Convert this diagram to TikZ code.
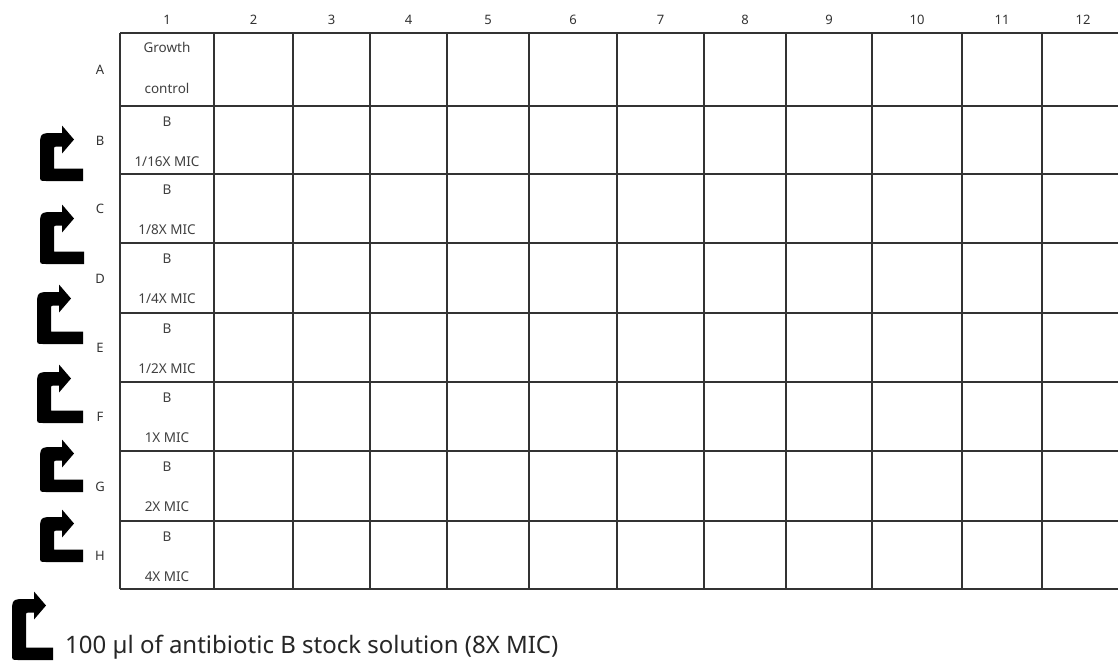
\documentclass[tikz,border=0pt]{standalone}
\usepackage{fontspec}
\setmainfont{Noto Sans}
\tikzset{
  gridline/.style={draw=black!80, line width=1.1pt},
  lbl/.style={font=\fontsize{13}{15}\selectfont, text=black!80, inner sep=0pt},
  celltxt/.style={font=\fontsize{13.5}{15}\selectfont, text=black!75, inner sep=0pt},
  legendtxt/.style={font=\fontsize{24}{28}\selectfont, text=black!85, inner sep=0pt, anchor=base west},
  arrowfill/.style={fill=black}
}
\newcommand\bentarr[4]{%
  \fill[arrowfill] (#4,#3) -- ({#1+6},#3) .. controls (#1,#3) .. (#1,{#3-6})
    -- (#1,{#2+15}) .. controls (#1,#2) .. ({#1+15},#2)
    -- ({#1+22},#2) -- ({#1+22},{#2-7.5}) -- ({#1+34},{#2+6.5}) -- ({#1+22},{#2+20.5})
    -- ({#1+22},{#2+13.5}) -- ({#1+17},{#2+13.5}) .. controls ({#1+14},{#2+13.5}) .. ({#1+14},{#2+16.5})
    -- ({#1+14},{#3-12.5}) -- (#4,{#3-12.5}) -- cycle;}
\begin{document}
\begin{tikzpicture}[x=1pt,y=-1pt]
\useasboundingbox[fill=white] (0,0) rectangle (1118,662);
% grid
\foreach \y in {33,106,174,243,313,382,451,521,589}
  \draw[gridline] (120,\y) -- (1118,\y);
\foreach \x in {120,214,293,370,447,529,617,704,786,872,962,1042}
  \draw[gridline] (\x,33) -- (\x,589);
% column headers
\foreach \n/\x in {1/167,2/253.5,3/331.5,4/408.5,5/488,6/573,7/660.5,8/745,9/829,10/917,11/1002,12/1083}
  \node[lbl] (col\n) at (\x,20) {\n};
% row labels
\foreach \r/\y in {A/70,B/141,C/209,D/279,E/348,F/417,G/487,H/556}
  \node[lbl] (row\r) at (100,\y) {\r};
% column 1 texts
\node[celltxt] (a1t) at (167,47) {Growth};
\node[celltxt] (a1b) at (167,88) {control};
\foreach \r/\t/\txt in {B/106/1\slash 16X MIC,C/174/1\slash 8X MIC,D/243/1\slash 4X MIC,E/313/1\slash 2X MIC,F/382/1X MIC,G/451/2X MIC,H/521/4X MIC}{
  \node[celltxt] (\r1t) at (167,\t+16) {B};
  \node[celltxt] (\r1b) at (167,\t+56) {\txt};
}
% bent arrows
\bentarr{40}{133}{181}{83}
\bentarr{40}{212}{264}{84}
\bentarr{37}{292}{344}{83}
\bentarr{37}{372}{423}{83}
\bentarr{40}{447}{492}{83}
\bentarr{40}{517}{562}{83}
% legend
\bentarr{12}{599}{660}{53}
\node[legendtxt] (legend) at (65,653) {100 µl of antibiotic B stock solution (8X MIC)};
\end{tikzpicture}
\end{document}
